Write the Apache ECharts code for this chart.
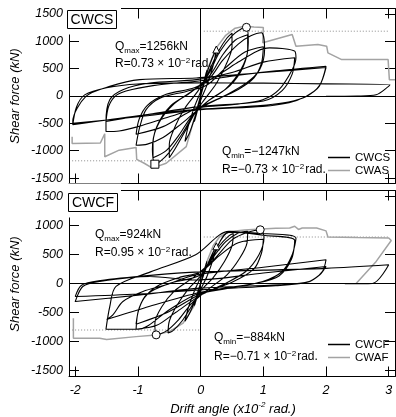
<!DOCTYPE html>
<html>
<head>
<meta charset="utf-8">
<script src="https://cdn.jsdelivr.net/npm/echarts@6/dist/echarts.min.js"></script>
<style>
  html, body { margin: 0; padding: 0; background: #fff; }
  #chart { width: 396px; height: 417px; }
</style>
</head>
<body>
<div id="chart"></div>
<script>
// axis ticks (x in 10^-2 rad, y in kN)
const xTicks = [-2, -1, 0, 1, 2, 3];
const yTicks = [-1500, -1000, -500, 0, 500, 1000, 1500];

// CWCS hysteresis (upper panel) in loading order
const cwcsLoop = [
  [0, 0], [0.05, 260], [0.1, 470], [0.06, 250], [0, 0], [-0.05, -260], [-0.1, -470], [-0.06, -250], [0, 0],
  [0.1, 420], [0.18, 680], [0.25, 850], [0.2, 560], [0.1, 200], [0, -80], [-0.1, -420], [-0.18, -680], [-0.25, -830], [-0.2, -560], [-0.1, -200], [0, 80],
  [0.15, 500], [0.3, 850], [0.42, 1060], [0.5, 1150], [0.5, 900], [0.4, 560], [0.25, 230], [0.05, -80], [-0.1, -330], [-0.25, -650], [-0.4, -950], [-0.5, -1130], [-0.5, -880], [-0.4, -540], [-0.25, -220], [-0.05, 80],
  [0.15, 450], [0.3, 800], [0.5, 1100], [0.65, 1230], [0.73, 1256], [0.76, 980], [0.68, 540], [0.46, 180], [0.14, -70], [-0.1, -330], [-0.3, -700], [-0.5, -1030], [-0.65, -1200], [-0.73, -1247], [-0.77, -980], [-0.7, -560], [-0.48, -180], [-0.15, 70],
  [0.15, 380], [0.35, 750], [0.55, 1020], [0.75, 1120], [0.75, 850], [0.64, 480], [0.4, 130], [0.1, -110], [-0.15, -380], [-0.35, -720], [-0.55, -1000], [-0.76, -1130], [-0.76, -860], [-0.66, -480], [-0.42, -140], [-0.12, 100],
  [0.15, 330], [0.35, 650], [0.6, 950], [0.8, 1100], [0.97, 1156], [1.02, 850], [0.94, 480], [0.73, 240], [0.36, -10], [0, -220], [-0.3, -500], [-0.6, -760], [-0.85, -880], [-1.03, -900], [-0.97, -560], [-0.87, -250], [-0.65, -40], [-0.23, 84],
  [0.1, 200], [0.4, 520], [0.7, 800], [1.0, 900], [0.97, 600], [0.85, 330], [0.6, 120], [0.2, -90], [-0.2, -300], [-0.6, -560], [-1.03, -700], [-0.98, -420], [-0.85, -170], [-0.55, 30], [-0.1, 150],
  [0.3, 400], [0.6, 620], [0.9, 820], [1.1, 880], [1.3, 870], [1.5, 820], [1.52, 700], [1.46, 480], [1.25, 116], [0.99, -68], [0.5, -160], [0, -210], [-0.5, -380], [-1.0, -560], [-1.3, -640], [-1.51, -650], [-1.51, -466], [-1.45, -68], [-1.24, 116], [-0.81, 238], [-0.07, 299],
  [0.5, 430], [1.0, 620], [1.5, 700], [1.46, 400], [1.3, 100], [1.0, -90], [0, -190], [-0.8, -330], [-1.51, -466], [-1.47, -200], [-1.37, -10], [-1.19, 90], [-0.76, 190], [0, 280],
  [0.6, 380], [1.2, 460], [2.0, 543], [1.89, 175], [1.68, -7], [1.41, -124], [0.99, -190], [0, -250], [-1.0, -380], [-2.04, -500], [-2.04, -466], [-1.83, -7], [-1.45, 176], [-0.97, 299], [-0.07, 330],
  [1.0, 430], [2.0, 520], [1.9, 200], [1.7, 0], [1.4, -110], [0.9, -180], [0, -240], [-1.0, -360], [-2.04, -527], [-1.98, -200], [-1.85, 20], [-1.5, 150], [-1.0, 220],
  [0, 240], [1.0, 235], [2.0, 222], [3.02, 207], [2.8, 24], [2.5, 0], [2.0, -5]
];

// CWAS envelope (grey), positive and negative branches from the origin
const cwasPos = [[0, 0], [0.1, 460], [0.25, 880], [0.4, 1110], [0.55, 1240], [0.7, 1275], [0.85, 1262], [1.0, 1253], [0.99, 972], [1.46, 1125], [1.52, 910], [1.87, 941], [2.01, 910], [2.03, 789], [2.25, 666], [2.99, 666], [3.01, 299], [3.1, 299]];
const cwasNeg = [[0, 0], [-0.23, -925], [-0.55, -1229], [-0.77, -1319], [-0.9, -1230], [-1.02, -1160], [-1.03, -940], [-1.3, -990], [-1.53, -1110], [-1.53, -690], [-1.6, -860], [-2.05, -870], [-2.05, -747]];
const cwasLimitPos = [[0.05, 1185], [3.0, 1185]];
const cwasLimitNeg = [[-2.05, -1185], [0, -1185]];

// CWCF hysteresis (lower panel)
const cwcfLoop = [
  [0, 0], [0.05, 200], [0.1, 380], [0.06, 200], [0, 0], [-0.05, -200], [-0.1, -380], [-0.06, -200], [0, 0],
  [0.1, 300], [0.18, 500], [0.25, 640], [0.2, 420], [0.1, 120], [0, -100], [-0.1, -330], [-0.18, -520], [-0.25, -650], [-0.2, -430], [-0.1, -130], [0, 100],
  [0.15, 380], [0.3, 650], [0.45, 820], [0.52, 860], [0.5, 650], [0.38, 380], [0.2, 100], [0, -130], [-0.15, -400], [-0.3, -650], [-0.45, -820], [-0.52, -850], [-0.5, -650], [-0.38, -380], [-0.2, -100], [0, 130],
  [0.2, 450], [0.4, 720], [0.6, 870], [0.75, 900], [0.74, 700], [0.62, 430], [0.42, 150], [0.12, -100], [-0.15, -350], [-0.35, -620], [-0.55, -820], [-0.71, -884], [-0.73, -680], [-0.62, -400], [-0.42, -130], [-0.12, 100],
  [0.2, 400], [0.5, 750], [0.75, 880], [0.96, 924], [1.01, 783], [0.93, 495], [0.72, 207], [0.35, -22], [0, -200], [-0.4, -500], [-0.7, -720], [-1.03, -786], [-1.0, -500], [-0.9, -250], [-0.7, -50], [-0.35, 100], [0, 200],
  [0.3, 480], [0.6, 700], [1.0, 760], [0.97, 520], [0.85, 250], [0.5, 20], [0, -180], [-0.5, -480], [-1.03, -700], [-0.98, -420], [-0.85, -180], [-0.5, 0], [0, 150],
  [0.2, 500], [0.45, 880], [1.0, 860], [1.52, 783], [1.46, 495], [1.3, 207], [0.99, 34], [0.45, -79], [-0.08, -195], [-0.5, -450], [-1.0, -786], [-1.51, -786], [-1.45, -400], [-1.35, -50], [-0.8, 200], [-0.08, 495],
  [0.45, 897], [1.0, 830], [1.5, 740], [1.45, 420], [1.25, 130], [0.9, 10], [0, -150], [-0.9, -420], [-1.5, -620], [-1.4, -540], [-1.24, -310], [-0.92, -138], [-0.55, -22], [-0.08, 147],
  [1.0, 280], [2.0, 409], [1.94, 207], [1.73, 34], [1.25, -22], [0, -79], [-1.0, -200], [-2.0, -310], [-1.88, -52], [-1.61, 34], [-0.81, 121], [-0.08, 61],
  [1.0, 180], [2.0, 293], [1.9, 150], [1.7, 20], [1.2, -40], [0, -109], [-1.0, -180], [-2.0, -224], [-1.9, -30], [-1.6, 50], [-0.8, 140],
  [0, 200], [1.0, 230], [2.0, 260], [3.0, 322], [2.74, 0], [2.3, -5]
];

// CWAF envelope (grey)
const cwafPos = [[0, 0], [0.1, 380], [0.2, 650], [0.3, 800], [0.45, 890], [0.7, 920], [0.9, 935], [1.2, 950], [1.42, 955], [1.5, 985], [1.56, 930], [1.62, 955], [1.85, 955], [2.0, 905], [2.03, 800], [2.5, 790], [3.0, 783], [3.04, 740], [2.8, 380], [2.48, 0]];
const cwafNeg = [[0, 0], [-0.1, -380], [-0.28, -683], [-0.5, -828], [-0.71, -884], [-1.03, -914], [-1.5, -965], [-1.53, -940], [-1.61, -942], [-2.03, -942], [-2.03, -597]];
const cwafLimitPos = [[0.05, 800], [3.0, 800]];
const cwafLimitNeg = [[-2.05, -800], [0, -800]];

// peak markers
const cwcsPeakPos = [[0.73, 1256]];
const cwcsPeakNeg = [[-0.73, -1247]];
const cwcsCrack = [[0.25, 850]];
const cwcfPeaks = [[0.95, 924], [-0.71, -884]];
const cwcfCrack = [[0.25, 640]];

const FONT = '"Liberation Sans", Arial, sans-serif';
const NARROW = '"Liberation Sans Narrow", "Liberation Sans", Arial, sans-serif';
const GREY = '#a3a3a3';

function xPair(grid, labels) {
  const base = {
    type: 'value', gridIndex: grid, min: -2.1, max: 3.1,
    axisLine: { onZero: false, lineStyle: { color: '#000', width: 1 } },
    axisTick: { inside: true, length: 10, customValues: xTicks, lineStyle: { color: '#000' } },
    splitLine: { show: false }
  };
  return [
    Object.assign({}, base, {
      position: 'bottom',
      axisLabel: labels ? {
        customValues: xTicks, fontStyle: 'italic', fontSize: 12.5, color: '#000',
        fontFamily: FONT, margin: 8, formatter: v => String(v)
      } : { show: false }
    }),
    Object.assign({}, base, { position: 'top', axisLabel: { show: false } })
  ];
}

function yPair(grid) {
  const base = {
    type: 'value', gridIndex: grid, min: -1600, max: 1600,
    axisLine: { onZero: false, lineStyle: { color: '#000', width: 1 } },
    axisTick: { inside: true, length: 10, customValues: yTicks, lineStyle: { color: '#000' } },
    splitLine: { show: false }
  };
  return [
    Object.assign({}, base, {
      position: 'left',
      axisLabel: {
        customValues: yTicks, fontStyle: 'italic', fontSize: 12.5, color: '#000',
        fontFamily: FONT, margin: 6, formatter: v => String(v)
      }
    }),
    Object.assign({}, base, { position: 'right', axisLabel: { show: false } })
  ];
}

function loopSeries(name, data, axis) {
  return {
    name, type: 'line', data, xAxisIndex: axis, yAxisIndex: axis,
    symbol: 'none', smooth: 0.3, z: 5,
    lineStyle: { color: '#000', width: 1.1 },
    itemStyle: { color: '#000' },
    markLine: {
      silent: true, symbol: ['none', 'none'], label: { show: false },
      lineStyle: { color: '#000', width: 1, type: 'solid' },
      data: [{ xAxis: 0 }, { yAxis: 0 }]
    }
  };
}

function envSeries(name, pos, neg, axis) {
  return {
    name, type: 'line', data: pos.slice().reverse().concat(neg.slice(1)),
    xAxisIndex: axis, yAxisIndex: axis, symbol: 'none', z: 3,
    lineStyle: { color: GREY, width: 1.5 }, itemStyle: { color: GREY }
  };
}

function limitSeries(data, axis) {
  return {
    type: 'line', data, xAxisIndex: axis, yAxisIndex: axis, symbol: 'none', z: 2,
    lineStyle: { color: '#8a8a8a', width: 1, type: [1, 2] }
  };
}

function markerSeries(data, symbol, axis) {
  return {
    type: 'scatter', data, xAxisIndex: axis, yAxisIndex: axis, symbol,
    symbolSize: symbol === 'triangle' ? 7 : 8, z: 10,
    itemStyle: { color: '#fff', borderColor: '#000', borderWidth: 1, opacity: 1 }
  };
}

function note(x, y, head, sub, tail) {
  return {
    type: 'text', x, y, z: 100,
    style: {
      text: '{m|' + head + '}{s|' + sub + '}{m|' + tail + '}',
      verticalAlign: 'middle', fill: '#000',
      rich: {
        m: { fontSize: 12, fontFamily: NARROW, lineHeight: 15, verticalAlign: 'middle' },
        s: { fontSize: 8, fontFamily: NARROW, lineHeight: 8, verticalAlign: 'bottom' }
      }
    }
  };
}

function rNote(x, y, val) {
  return {
    type: 'text', x, y, z: 100,
    style: {
      text: '{m|R=' + val + ' × 10}{p|−2}{m|rad.}',
      verticalAlign: 'middle', fill: '#000',
      rich: {
        m: { fontSize: 12, fontFamily: NARROW, lineHeight: 15, verticalAlign: 'middle' },
        p: { fontSize: 8, fontFamily: NARROW, lineHeight: 8, verticalAlign: 'top', padding: [0, 1, 0, 0] }
      }
    }
  };
}

function tag(x, y, label) {
  return [
    { type: 'rect', z: 90, shape: { x: 64, y: y - 10, width: 57, height: 34 }, style: { fill: '#fff', stroke: null } },
    { type: 'rect', z: 95, shape: { x: x, y: y, width: 49, height: 18 }, style: { fill: '#fff', stroke: '#000', lineWidth: 1 } },
    { type: 'text', z: 100, x: x + 24.5, y: y + 9.5, style: { text: label, fontSize: 14, fontFamily: FONT, fill: '#000', align: 'center', verticalAlign: 'middle' } }
  ];
}

function yName(y) {
  return {
    type: 'text', x: 15, y, rotation: Math.PI / 2, z: 100,
    style: { text: 'Shear force (kN)', fontSize: 13, fontStyle: 'italic', fontFamily: FONT, fill: '#000', align: 'center', verticalAlign: 'middle' }
  };
}

const legendBase = {
  orient: 'vertical', left: 328, icon: 'rect', itemWidth: 22, itemHeight: 1.5, itemGap: 0,
  textStyle: { fontSize: 11.5, color: '#000', fontFamily: FONT, lineHeight: 13 }
};

const chart = echarts.init(document.getElementById('chart'), null, { renderer: 'canvas' });
chart.setOption({
  animation: false,
  backgroundColor: '#fff',
  grid: [
    { left: 69, top: 8.5, width: 326, height: 175 },
    { left: 69, top: 190.5, width: 326, height: 186 }
  ],
  xAxis: xPair(0, false).concat(xPair(1, true)),
  yAxis: yPair(0).concat(yPair(1)),
  legend: [
    Object.assign({ data: ['CWCS', 'CWAS'], top: 151, padding: 0 }, legendBase),
    Object.assign({ data: ['CWCF', 'CWAF'], top: 338, padding: 0 }, legendBase)
  ],
  series: [
    limitSeries(cwasLimitPos, 0),
    limitSeries(cwasLimitNeg, 0),
    envSeries('CWAS', cwasPos, cwasNeg, 0),
    loopSeries('CWCS', cwcsLoop, 0),
    markerSeries(cwcsPeakPos, 'circle', 0),
    markerSeries(cwcsPeakNeg, 'rect', 0),
    markerSeries(cwcsCrack, 'triangle', 0),
    limitSeries(cwafLimitPos, 2),
    limitSeries(cwafLimitNeg, 2),
    envSeries('CWAF', cwafPos, cwafNeg, 2),
    loopSeries('CWCF', cwcfLoop, 2),
    markerSeries(cwcfPeaks, 'circle', 2),
    markerSeries(cwcfCrack, 'triangle', 2)
  ],
  graphic: [].concat(
    tag(67.5, 10.5, 'CWCS'),
    tag(68.5, 193.5, 'CWCF'),
    [
      note(115, 47, 'Q', 'max', '=1256kN'),
      rNote(115, 64, '0.73'),
      note(222, 152, 'Q', 'min', '=−1247kN'),
      rNote(222, 170, '−0.73'),
      note(95, 235, 'Q', 'max', '=924kN'),
      rNote(95, 253, '0.95'),
      note(214, 338, 'Q', 'min', '=−884kN'),
      rNote(214, 357, '−0.71'),
      yName(96),
      yName(284),
      {
        type: 'text', x: 233, y: 409, z: 100,
        style: {
          text: '{i|Drift angle (x10}{p|-2}{i| rad.)}', align: 'center', verticalAlign: 'middle', fill: '#000',
          rich: {
            i: { fontSize: 13, fontStyle: 'italic', fontFamily: FONT, lineHeight: 16, verticalAlign: 'middle' },
            p: { fontSize: 8, fontStyle: 'italic', fontFamily: FONT, lineHeight: 8, verticalAlign: 'top' }
          }
        }
      }
    ]
  )
});
</script>
</body>
</html>
